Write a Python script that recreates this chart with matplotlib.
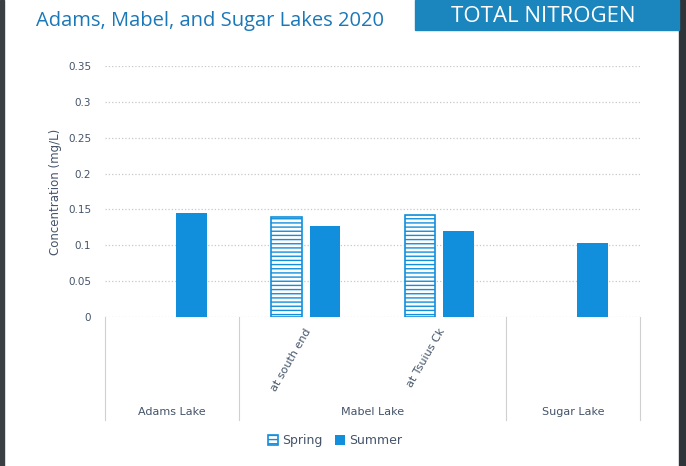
import numpy as np
import matplotlib
matplotlib.use('Agg')
from matplotlib import pyplot as plt
from matplotlib.patches import Rectangle

plt.rcParams['hatch.linewidth'] = 1.0

# data
groups = ['Adams Lake', 'Mabel Lake', 'Sugar Lake']
group_sizes = [1, 2, 1]
sites = ['', 'at south end', 'at Tsuius Ck', '']
spring = [np.nan, 0.139, 0.142, np.nan]
summer = [0.145, 0.127, 0.120, 0.103]
yticks = [0, 0.05, 0.1, 0.15, 0.2, 0.25, 0.3, 0.35]
ytick_labels = ['0', '0.05', '0.1', '0.15', '0.2', '0.25', '0.3', '0.35']

BLUE = '#118fdc'
TITLE_BLUE = '#1b78b8'
BOX_BLUE = '#1a86bd'
TEXT = '#44546a'

fig = plt.figure(figsize=(6.86, 4.66), dpi=100)
fig.patch.set_facecolor('white')

# dark photo edges
fig.add_artist(Rectangle((0, 0), 0.006, 1, transform=fig.transFigure, color='#3a3f44', zorder=0))
fig.add_artist(Rectangle((0.99, 0), 0.01, 1, transform=fig.transFigure, color='#2f3438', zorder=0))

# header
fig.text(0.052, 0.955, 'Adams, Mabel, and Sugar Lakes 2020', color=TITLE_BLUE,
         fontsize=14.5, family='Open Sans', va='center', ha='left')
fig.add_artist(Rectangle((0.605, 0.935), 0.385, 0.065, transform=fig.transFigure,
                         color=BOX_BLUE, zorder=1))
fig.text(0.792, 0.965, 'TOTAL NITROGEN', color='white', fontsize=16,
         family='Open Sans', va='center', ha='center', zorder=2)

ax = fig.add_axes([0.153, 0.320, 0.780, 0.538])
x = np.arange(len(sites))
w = 0.23
off = 0.145
ax.bar(x - off, spring, w, facecolor='white', edgecolor=BLUE, hatch='----',
       linewidth=1.2, label='Spring', zorder=3)
ax.bar(x + off, summer, w, color=BLUE, label='Summer', zorder=3)

ax.set_xlim(-0.5, len(sites) - 0.5)
ax.set_ylim(0, 0.35)
ax.set_yticks(yticks)
ax.set_yticklabels(ytick_labels)
ax.tick_params(axis='y', length=0, colors=TEXT, labelsize=7.5, pad=10)
ax.set_xticks([])
ax.grid(axis='y', color='#c8c8c8', linestyle=':', linewidth=0.9, zorder=0)
for s in ax.spines.values():
    s.set_visible(False)
ax.set_ylabel('Concentration (mg/L)', color=TEXT, fontsize=8.5, labelpad=4)

# multi-level category axis
trans = ax.get_xaxis_transform()
edges = np.cumsum([0] + group_sizes) - 0.5
for e in edges:
    ax.plot([e, e], [0, -0.41], transform=trans, color='#d0d0d0', lw=0.8, clip_on=False)
for i, name in enumerate(sites):
    if name:
        ax.text(x[i] + 0.02, -0.05, name, transform=trans, rotation=60, rotation_mode='anchor',
                ha='right', va='center', fontsize=8, color=TEXT)
for g, a, b in zip(groups, edges[:-1], edges[1:]):
    ax.text((a + b) / 2, -0.38, g, transform=trans, ha='center', va='center',
            fontsize=8, color=TEXT)

leg = ax.legend(loc='center', bbox_to_anchor=(0.43, -0.495), ncol=2, frameon=False,
                fontsize=9, handlelength=0.8, handleheight=0.8, handletextpad=0.3,
                columnspacing=1.0, labelcolor=TEXT)

fig.savefig('out.png', dpi=100)
